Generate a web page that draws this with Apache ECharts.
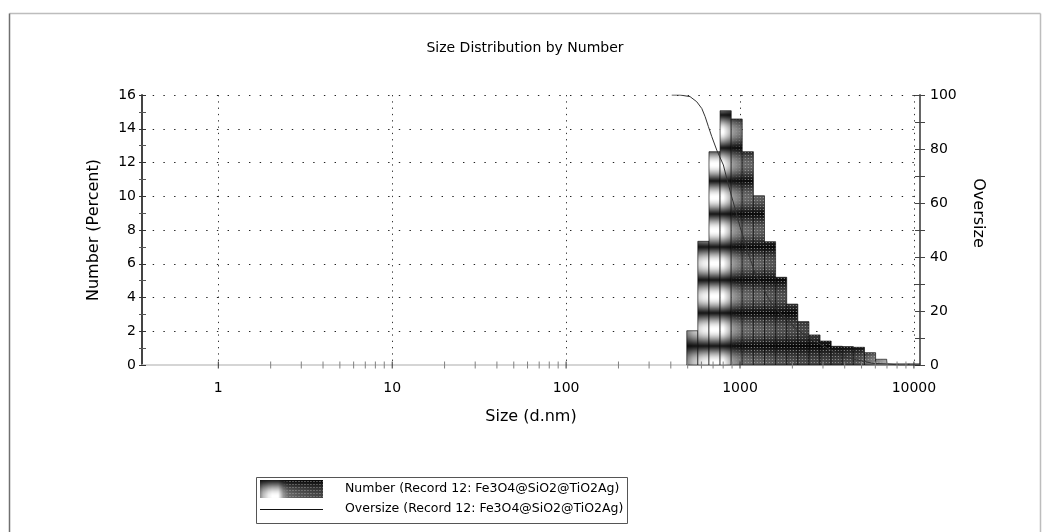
<!DOCTYPE html>
<html>
<head>
<meta charset="utf-8">
<script src="https://cdn.jsdelivr.net/npm/echarts@6/dist/echarts.min.js"></script>
<style>
  html, body { margin: 0; padding: 0; background: #fff; }
  #chart { width: 1050px; height: 532px; }
</style>
</head>
<body>
<div id="chart"></div>
<script>
// Size classes (d.nm): edges of the number-distribution histogram bins
const binEdges = [494, 572, 663, 768, 890, 1030, 1194, 1383, 1602, 1856, 2150,
                  2491, 2886, 3344, 3874, 4487, 5199, 6023, 6978, 8084, 9366, 10840];
// Number (%) in each size class
const numberPct = [2.03, 7.33, 12.64, 15.07, 14.58, 12.64, 10.03, 7.31, 5.20, 3.61,
                   2.57, 1.78, 1.42, 1.11, 1.09, 1.05, 0.73, 0.34, 0.07, 0.07, 0.07];
// Oversize (cumulative %) curve
const oversizeSize = [405, 452, 516, 564, 603, 630, 658, 688, 735, 802, 839, 896, 936, 1000,
                      1116, 1167, 1219, 1333, 1455, 1521, 1698, 1937, 2070, 2525, 2884, 3296,
                      3911, 4688, 5820, 6977, 8300, 10840];
const oversizePct = [100, 100, 99.4, 97.5, 95, 92, 88.3, 84.6, 79.6, 74.1, 69.1, 62.3, 58.0, 51.2,
                     41.4, 37.7, 34.0, 29.6, 24.7, 22.8, 19.3, 15.9, 13.6, 10.0, 7.8, 5.6,
                     3.1, 1.9, 0.6, 0.4, 0, 0];
// Size-axis tick marks
const majorTicks = [1, 10, 100, 1000, 10000];
const minorTicks = [2, 3, 4, 5, 6, 7, 8, 9, 20, 30, 40, 50, 60, 70, 80, 90,
                    200, 300, 400, 500, 600, 700, 800, 900,
                    2000, 3000, 4000, 5000, 6000, 7000, 8000, 9000];

const titleText = 'Size Distribution by Number';
const numberName = 'Number (Record 12: Fe3O4@SiO2@TiO2Ag)';
const oversizeName = 'Oversize (Record 12: Fe3O4@SiO2@TiO2Ag)';

const FONT = 'DejaVu Sans';

// Shaded, dotted brush used to fill the histogram bars
function makeBarTexture() {
  const W = 240, H = 33;
  const c = document.createElement('canvas');
  c.width = W; c.height = H;
  const ctx = c.getContext('2d');
  const img = ctx.createImageData(W, H);
  const stops = [[0, 0.55], [6, 0.75], [16, 0.93], [24, 1], [36, 1], [46, 0.6], [56, 0.42],
                 [80, 0.34], [110, 0.28], [150, 0.25], [172, 0.32], [190, 0.55], [205, 0.75], [240, 0.8]];
  const lum = x => {
    for (let i = 1; i < stops.length; i++) {
      if (x <= stops[i][0]) {
        const [x0, a] = stops[i - 1], [x1, b] = stops[i];
        return a + (b - a) * (x - x0) / (x1 - x0);
      }
    }
    return stops[stops.length - 1][1];
  };
  const clamp = v => Math.max(0, Math.min(1, v));
  for (let y = 0; y < H; y++) {
    const band = 0.1 + 0.9 * Math.pow(Math.sin(Math.PI * (y + 0.5) / H), 1.2);
    for (let x = 0; x < W; x++) {
      let v = lum(x) * band;
      const dotW = clamp((x - 44) / 15) * clamp((205 - x) / 15);
      if (x % 3 === 1 && y % 3 === 1) v = v + (0.7 - v) * dotW * 0.8;
      const g = Math.round(clamp(v) * 255);
      const k = (y * W + x) * 4;
      img.data[k] = g; img.data[k + 1] = g; img.data[k + 2] = g; img.data[k + 3] = 255;
    }
  }
  ctx.putImageData(img, 0, 0);
  return c;
}
const barTexture = makeBarTexture();

const chart = echarts.init(document.getElementById('chart'), null, { renderer: 'canvas' });

const labelStyle = { color: '#000', fontFamily: FONT, fontSize: 14 };
const nameStyle = { color: '#000', fontFamily: FONT, fontSize: 16 };

function tickItem(color) {
  return function (params, api) {
    const p = api.coord([api.value(0), 0]);
    return {
      type: 'line',
      shape: { x1: p[0], y1: p[1] - 3.5, x2: p[0], y2: p[1] + 3.5 },
      style: { stroke: color, lineWidth: 1 }
    };
  };
}

const option = {
  animation: false,
  backgroundColor: '#fff',
  title: {
    text: titleText,
    left: 'center',
    top: 36,
    textStyle: { color: '#000', fontFamily: FONT, fontSize: 14, fontWeight: 'normal' }
  },
  grid: { left: 142, top: 95, width: 778, height: 270, outerBoundsMode: 'none', containLabel: false },
  xAxis: [{
    type: 'log',
    logBase: 10,
    min: 0.364,
    max: 10840,
    position: 'bottom',
    axisLine: { show: true, onZero: false, lineStyle: { color: '#c8c8c8', width: 1.5 } },
    axisTick: { show: false },
    minorTick: { show: false },
    axisLabel: {
      ...labelStyle,
      margin: 16,
      formatter: v => {
        const e = Math.log10(v), r = Math.round(e);
        return Math.abs(e - r) < 1e-6 ? String(Math.pow(10, r)) : '';
      }
    },
    splitLine: { show: true, lineStyle: { type: [1.3, 5], color: '#333', width: 1 } },
    name: 'Size (d.nm)',
    nameLocation: 'middle',
    nameGap: 44,
    nameMoveOverlap: false,
    nameTextStyle: nameStyle
  }],
  yAxis: [{
    type: 'value', min: 0, max: 16, interval: 2, position: 'left',
    axisLine: { show: true, lineStyle: { color: '#444', width: 2 } },
    axisTick: { show: true, length: 3, lineStyle: { color: '#333' } },
    minorTick: { show: true, splitNumber: 2, length: 3, lineStyle: { color: '#555' } },
    axisLabel: { ...labelStyle, margin: 6 },
    splitLine: { show: true, showMinLine: false, lineStyle: { type: [1.4, 9.3], color: '#222', width: 1.2 } },
    name: 'Number (Percent)', nameLocation: 'middle', nameGap: 40, nameRotate: 90,
    nameMoveOverlap: false, nameTextStyle: nameStyle
  }, {
    type: 'value', min: 0, max: 16, interval: 2, position: 'left',
    axisLine: { show: false },
    axisTick: { show: true, inside: true, length: 4, lineStyle: { color: '#333' } },
    minorTick: { show: true, splitNumber: 2, length: 4, lineStyle: { color: '#555' } },
    axisLabel: { show: false }, splitLine: { show: false }
  }, {
    type: 'value', min: 0, max: 100, interval: 20, position: 'right',
    axisLine: { show: true, lineStyle: { color: '#666', width: 2 } },
    axisTick: { show: true, length: 5, lineStyle: { color: '#444' } },
    minorTick: { show: true, splitNumber: 2, length: 5, lineStyle: { color: '#444' } },
    axisLabel: { ...labelStyle, margin: 10 },
    splitLine: { show: false },
    name: 'Oversize', nameLocation: 'middle', nameGap: 50, nameRotate: -90,
    nameMoveOverlap: false,
    nameTextStyle: { ...nameStyle, padding: [0, 34, 0, 0] }
  }, {
    type: 'value', min: 0, max: 100, interval: 20, position: 'right',
    axisLine: { show: false },
    axisTick: { show: true, inside: true, length: 5, lineStyle: { color: '#444' } },
    minorTick: { show: true, splitNumber: 2, length: 5, lineStyle: { color: '#444' } },
    axisLabel: { show: false }, splitLine: { show: false }
  }],
  series: [{
    name: numberName,
    type: 'custom',
    xAxisIndex: 0, yAxisIndex: 0,
    silent: true,
    z: 3,
    data: numberPct.map((v, i) => [binEdges[i], binEdges[i + 1], v]),
    encode: { x: [0, 1], y: 2 },
    renderItem(params, api) {
      const topLeft = api.coord([api.value(0), api.value(2)]);
      const bottomRight = api.coord([api.value(1), 0]);
      const origin = api.coord([binEdges[0], 0]);
      return {
        type: 'rect',
        shape: {
          x: topLeft[0], y: topLeft[1],
          width: bottomRight[0] - topLeft[0],
          height: bottomRight[1] - topLeft[1]
        },
        style: {
          fill: { image: barTexture, repeat: 'repeat', x: origin[0], y: origin[1] - 19 },
          stroke: 'rgba(0,0,0,0.6)',
          lineWidth: 1
        }
      };
    }
  }, {
    name: oversizeName,
    type: 'line',
    xAxisIndex: 0, yAxisIndex: 2,
    silent: true,
    z: 4,
    showSymbol: false,
    data: oversizeSize.map((s, i) => [s, oversizePct[i]]),
    lineStyle: { color: '#333', width: 1 }
  }, {
    type: 'custom',
    xAxisIndex: 0, yAxisIndex: 0,
    silent: true, z: 5, clip: false,
    data: minorTicks.map(v => [v, 0]),
    renderItem: tickItem('#808080')
  }, {
    type: 'custom',
    xAxisIndex: 0, yAxisIndex: 0,
    silent: true, z: 5, clip: false,
    data: majorTicks.map(v => [v, 0]),
    renderItem: tickItem('#333')
  }],
  graphic: [
    // outer frame
    { type: 'line', silent: true, shape: { x1: 9.5, y1: 13.5, x2: 1040.5, y2: 13.5 }, style: { stroke: '#bdbdbd', lineWidth: 1.5 } },
    { type: 'line', silent: true, shape: { x1: 9.5, y1: 13.5, x2: 9.5, y2: 532 }, style: { stroke: '#707070', lineWidth: 1.5 } },
    { type: 'line', silent: true, shape: { x1: 1040.5, y1: 13.5, x2: 1040.5, y2: 532 }, style: { stroke: '#bdbdbd', lineWidth: 1.5 } },
    // legend
    { type: 'rect', silent: true, shape: { x: 256.5, y: 477.5, width: 371, height: 46 }, style: { fill: '#fff', stroke: '#555', lineWidth: 1 } },
    { type: 'rect', silent: true, shape: { x: 260, y: 480, width: 63, height: 18 },
      style: { fill: { image: barTexture, repeat: 'repeat', x: 260, y: 480, scaleX: 0.5, scaleY: 1 } } },
    { type: 'line', silent: true, shape: { x1: 260, y1: 509.5, x2: 323, y2: 509.5 }, style: { stroke: '#111', lineWidth: 1 } },
    { type: 'text', silent: true, x: 345, y: 489, style: { text: numberName, fill: '#000', font: '12.5px "DejaVu Sans"', verticalAlign: 'middle' } },
    { type: 'text', silent: true, x: 345, y: 509, style: { text: oversizeName, fill: '#000', font: '12.5px "DejaVu Sans"', verticalAlign: 'middle' } }
  ]
};

chart.setOption(option);
</script>
</body>
</html>
